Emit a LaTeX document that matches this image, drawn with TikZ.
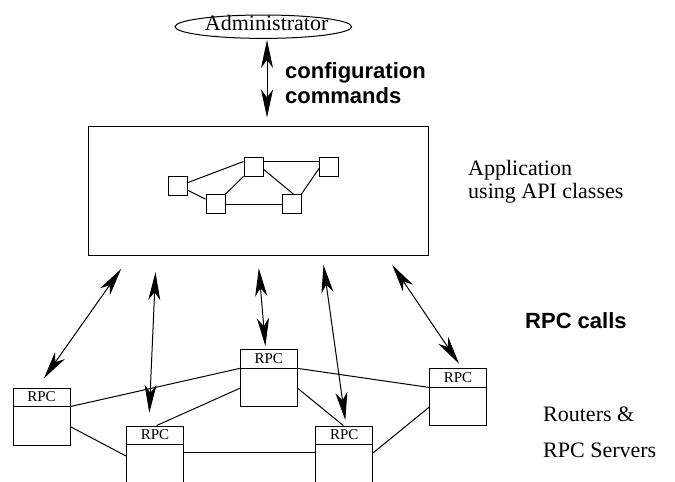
\documentclass[tikz,border=0pt]{standalone}
\usepackage{fontspec}
\setmainfont{Liberation Serif}
\newfontfamily\hvfont{Liberation Sans}
\usetikzlibrary{arrows.meta,calc,shapes.geometric}
\tikzset{
 ln/.style={line width=1pt},
 dbl/.style={line width=1pt, {Stealth[length=28pt,width=12pt,inset=8pt]}-{Stealth[length=28pt,width=12pt,inset=8pt]}},
 sq/.style={draw, line width=1pt, minimum size=19pt, inner sep=0},
 rpcbox/.style={draw, line width=1pt, minimum width=57pt, minimum height=57pt, inner sep=0},
 rpclabel/.style={font=\fontsize{15}{18}\selectfont, inner sep=0},
 serif/.style={font=\fontsize{22}{26}\selectfont, inner sep=0, anchor=base west},
 boldsans/.style={font=\hvfont\bfseries\fontsize{22}{26}\selectfont, inner sep=0, anchor=base west},
}
\begin{document}
\begin{tikzpicture}[x=1pt,y=-1pt]
\clip (0,0) rectangle (675,482);
% administrator
\node[serif, anchor=base] (admin) at (266.7,30.7) {Administrator};
\draw[ln] (263.3,26.7) ellipse [x radius=88.3, y radius=11.7];
% application box
\node[draw, ln, minimum width=340pt, minimum height=129pt, inner sep=0] (app) at (258,190.5) {};
\node[sq] (s1) at (178,185.5) {};
\node[sq] (s2) at (215.5,204) {};
\node[sq] (s3) at (253.5,166.5) {};
\node[sq] (s4) at (291.5,204) {};
\node[sq] (s5) at (329,166.5) {};
\draw[ln] ([yshift=3pt]s1.east) -- ([yshift=5pt]s3.west);
\draw[ln] (s1) -- (s2);
\draw[ln] (s2) -- (s3);
\draw[ln] (s2) -- (s4);
\draw[ln] ([yshift=-2.8pt]s3.east) -- ([xshift=1.8pt]s4.north);
\draw[ln] (s4.north east) -- ([yshift=-2pt]s5.west);
\draw[ln] ([yshift=5.5pt]s3.east) -- ([yshift=5.5pt]s5.west);
% texts
\node[serif] (apptxt1) at (468,175.7) {Application};
\node[serif] (apptxt2) at (468,198.3) {using API classes};
\node[boldsans] (cfg1) at (285,78.3) {configuration};
\node[boldsans] (cfg2) at (285,103.5) {commands};
\node[boldsans] (rpccalls) at (525,328) {RPC calls};
\node[serif] (rt1) at (543,421.7) {Routers \&};
\node[serif] (rt2) at (543,457.7) {RPC Servers};
% admin arrow
\draw[dbl] ($(admin.base)+(0.3,9.3)$) -- ($(app.north)+(9,-8)$);
% RPC boxes
\node[rpcbox] (r1) at (41.5,416.5) {};
\node[rpcbox] (r2) at (155,454.5) {};
\node[rpcbox] (r3) at (268.7,378.4) {};
\node[rpcbox] (r4) at (344.3,454.5) {};
\node[rpcbox] (r5) at (458,397.4) {};
\foreach \b in {r1,r2,r3,r4,r5}{
  \draw[ln] ($(\b.north west)+(0,19)$) -- ($(\b.north east)+(0,19)$);
  \node[rpclabel] (\b-lbl) at ($(\b.north)+(0,9.5)$) {RPC};
}
% router links
\draw[ln] ($(r1.north east)+(0,19)$) -- ($(r3.north west)+(0,19)$);
\draw[ln] ($(r1.east)+(0,10.2)$) -- ($(r2.west)+(0,1.5)$);
\draw[ln] ($(r2.north)+(1.7,0)$) -- ($(r3.west)+(0,9.9)$);
\draw[ln] ($(r2.east)+(0,-1.8)$) -- ($(r4.west)+(0,-1.8)$);
\draw[ln] ($(r3.north east)+(0,19)$) -- ($(r5.north west)+(0,19)$);
\draw[ln] ($(r3.east)+(0,9.9)$) -- ($(r4.north)+(-1,0)$);
\draw[ln] ($(r4.east)+(0,-1.8)$) -- ($(r5.west)+(0,9.9)$);
% RPC call arrows
\draw[dbl] ($(app.south west)+(33.7,13.3)$) -- ($(r1.north west)+(31.3,-9)$);
\draw[dbl] ($(app.south west)+(68,16.7)$) -- ($(r2.north west)+(23.3,-12.7)$);
\draw[dbl] ($(app.south west)+(171.3,12.7)$) -- ($(r3.north west)+(25.7,-3.3)$);
\draw[dbl] ($(app.south west)+(236,9.3)$) -- ($(r4.north west)+(30,-5.3)$);
\draw[dbl] ($(app.south west)+(304.7,9.3)$) -- ($(r5.north west)+(30,-4.7)$);
\end{tikzpicture}
\end{document}
